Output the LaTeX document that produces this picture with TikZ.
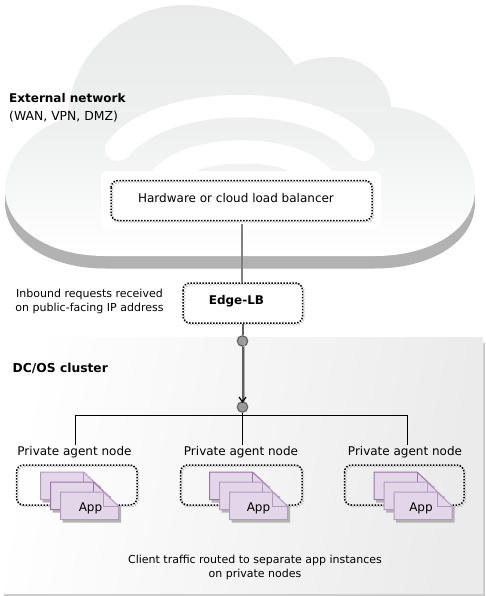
\documentclass[tikz,border=0pt]{standalone}
\usepackage{fontspec}
\setmainfont{DejaVu Sans}
\usetikzlibrary{arrows.meta,calc}
\definecolor{cloudshadow}{HTML}{B2B2B2}
\definecolor{cloudtop}{HTML}{E9EBEB}
\definecolor{appfill}{HTML}{E2D6E8}
\definecolor{appedge}{HTML}{B49AC2}
\definecolor{appdark}{HTML}{9A75AC}
\definecolor{docshadow}{HTML}{B4B4B4}
\definecolor{dotgray}{HTML}{C4C4C4}
\definecolor{linegray}{HTML}{5E5E5E}
\definecolor{jointfill}{HTML}{9A9A9A}
\tikzset{
  lbl/.style={font=\fontsize{12}{14}\selectfont,align=center,inner sep=0pt,text=black},
  lblsmall/.style={lbl,font=\fontsize{11}{14}\selectfont},
  lblb/.style={lbl,font=\fontsize{12}{14}\selectfont\bfseries},
  dotbox/.style={rounded corners=7pt,draw=black,line width=1.5pt,dash pattern=on 1.5pt off 1.5pt},
  dotshadow/.style={rounded corners=7pt,draw=dotgray,line width=1.4pt,dash pattern=on 1.5pt off 1.5pt},
  joint/.style={circle,draw=linegray,line width=1.1pt,fill=jointfill,minimum size=10.5pt,inner sep=0pt},
  conn/.style={draw=linegray,line width=2pt},
  tree/.style={draw=black,line width=0.8pt},
}
\newcommand{\dotted}[5]{%
  \draw[dotshadow] (#2+1.5,#3+1.5) rectangle (#4+1.5,#5+1.5);
  \draw[dotbox] (#2,#3) rectangle (#4,#5);
  \coordinate (#1) at ($(#2,#3)!.5!(#4,#5)$);
}
\newcommand{\appdoc}[3]{%
  \fill[docshadow] (#2+2,#3+20) -- (#2+58,#3+14) -- (#2+60.5,#3+14) -- (#2+60.5,#3+30.5) -- (#2+2,#3+30.5) -- cycle;
  \filldraw[fill=appfill,draw=#1,line width=1pt] (#2,#3) -- (#2+43,#3) -- (#2+58,#3+14) -- (#2+58,#3+27.5) -- (#2,#3+27.5) -- cycle;
  \draw[draw=#1,line width=.8pt] (#2+43,#3) -- (#2+43,#3+14) -- (#2+58,#3+14);
}
\newcommand{\appstack}[4]{%
  \appdoc{#1}{#3}{#4}
  \appdoc{#2}{#3+10}{#4+10}
  \appdoc{appedge}{#3+20}{#4+20}
}
\begin{document}
\begin{tikzpicture}[x=1pt,y=-1pt]
\useasboundingbox (0,0) rectangle (485,596);
\fill[white] (0,0) rectangle (485,596);
% cluster panel
\fill[black!20] (4,343) rectangle (485,596);
\shade[left color=white,right color=black!8,shading angle=80] (0,337) rectangle (483,593);
% cloud
\def\cloudpath{(5,190) .. controls (5,160) and (30,130) .. (68,117)
  .. controls (68,60) and (120,5) .. (185,5)
  .. controls (235,5) and (270,30) .. (295,65)
  .. controls (305,60) and (320,57) .. (335,57)
  .. controls (365,57) and (390,80) .. (391,107)
  .. controls (440,110) and (475,150) .. (475,190)
  .. controls (475,230) and (430,256) .. (375,256)
  -- (105,256)
  .. controls (45,256) and (5,225) .. (5,190) -- cycle}
\fill[cloudshadow,yshift=-12.5pt] \cloudpath;
\fill[cloudshadow] (5,190) rectangle (475,202.5);
\shade[top color=cloudtop,bottom color=white,middle color=cloudtop!75] \cloudpath;
% arcs inside the cloud
\fill[white] (107,143) .. controls (150,79) and (330,79) .. (373,143)
  .. controls (378,150) and (372,162) .. (362,161)
  .. controls (358,160) and (356,159) .. (353,157)
  .. controls (315,104) and (170,104) .. (128,157)
  .. controls (122,162) and (112,162) .. (108,157)
  .. controls (104,152) and (104,147) .. (107,143) -- cycle;
\fill[white] (152,171) .. controls (185,130) and (299,130) .. (332,171) -- cycle;
\fill[black!5] (197,171) .. controls (215,161) and (270,161) .. (288,171) -- cycle;
\fill[white,rounded corners=6pt] (101,171) rectangle (381,229);
% boxes
\dotted{lbbox}{111}{180.5}{372}{220.5}
\dotted{edgebox}{183}{283}{302.5}{323}
\node[joint] (j1) at (242.5,341) {};
\node[joint] (j2) at (242.5,407) {};
% connectors
\draw[draw=black!50,line width=2pt] (241.5,224) -- (241.5,282);
\draw[black!30,line width=1.2pt] (244.2,342) -- (244.2,402);
\draw[conn] (242.5,324) -- (j1);
\draw[conn] (j1) -- (j2);
\draw[black,line width=1.2pt] (239,397) -- (242.5,402) -- (246,397);
\coordinate (bl) at (75.5,415);
\coordinate (br) at (407.5,415);
\draw[tree] (75.5,445) -- (bl) -- (br) -- (407.5,445);
\draw[tree] (j2) -- (242.5,445);
% texts
\node[lblb,anchor=west] (t1) at (9,98.5) {External network};
\node[lbl,anchor=west,font=\fontsize{12.4}{14}\selectfont] (t2) at (9,116.5) {(WAN, VPN, DMZ)};
\node[lbl] (t3) at (236,198.5) {Hardware or cloud load balancer};
\node[lblsmall] (t4) at (89.5,301.5) {Inbound requests received\\on public-facing IP address};
\node[lblb] (t5) at (236.5,301.5) {Edge-LB};
\node[lblb,anchor=west,font=\fontsize{12.3}{14}\selectfont\bfseries] (t6) at (12.5,368.5) {DC/OS cluster};
\node[lbl] (n1) at (74.5,452.5) {Private agent node};
\node[lbl] (n2) at (241,452.5) {Private agent node};
\node[lbl] (n3) at (405,452.5) {Private agent node};
\node[lblsmall] (t7) at (255,567) {Client traffic routed to separate app instances\\on private nodes};
% private nodes
\dotted{p1}{16.5}{465}{137}{505}
\dotted{p2}{180.5}{465}{302}{505}
\dotted{p3}{344.5}{465}{464}{505}
\appstack{appedge}{appdark}{40.5}{472}
\appstack{appdark}{appedge}{209.5}{472}
\appstack{appdark}{appedge}{374}{472}
\node[lbl] (a1) at (90.5,508.5) {App};
\node[lbl] (a2) at (258.5,508.5) {App};
\node[lbl] (a3) at (421,508.5) {App};
\end{tikzpicture}
\end{document}
